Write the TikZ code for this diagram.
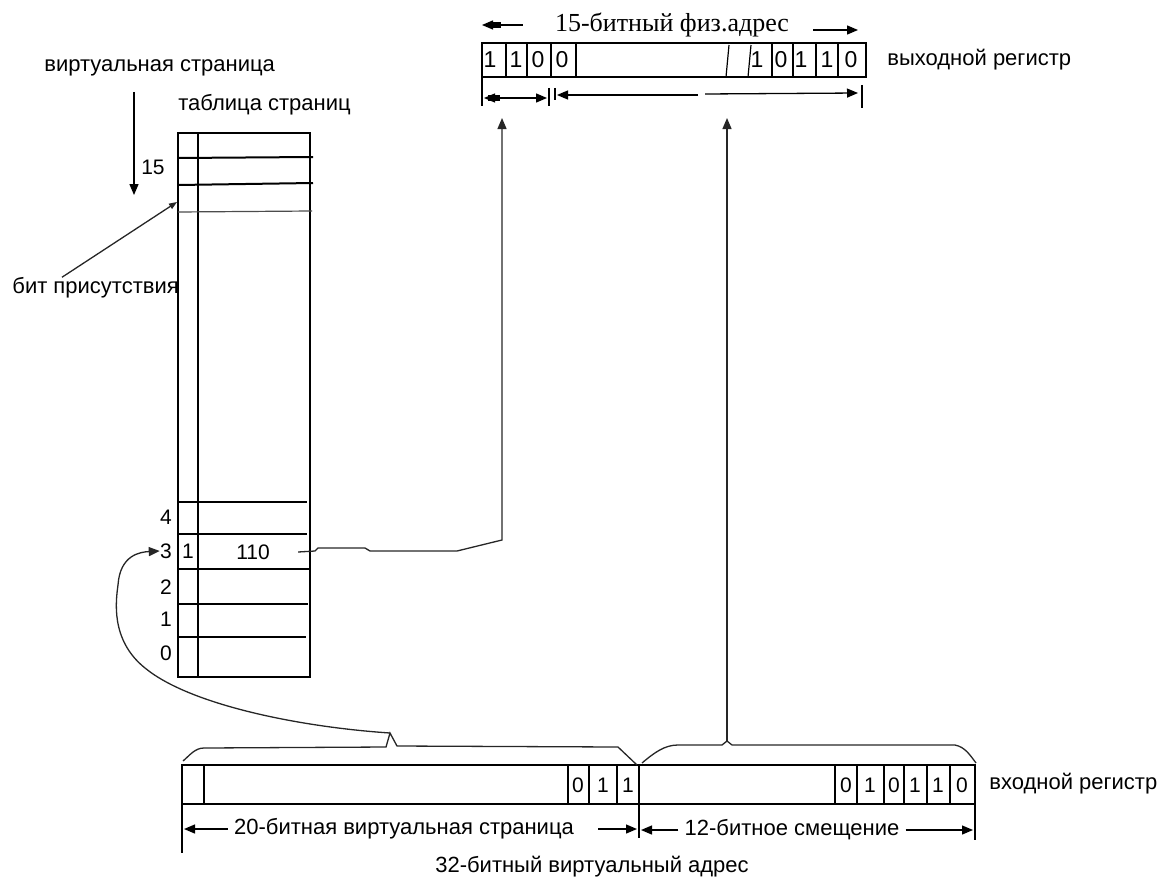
\documentclass[tikz,border=0pt]{standalone}
\usepackage{fontspec}
\setmainfont{Liberation Sans}
\newfontfamily\titlefont{Liberation Serif}
\usetikzlibrary{arrows.meta}

\tikzset{
  lbl/.style={font=\fontsize{11}{13}\selectfont, inner sep=0pt},
  digit/.style={font=\fontsize{10.5}{12}\selectfont, inner sep=0pt},
  frame/.style={line width=1pt},
  cell/.style={line width=0.6pt},
  conn/.style={line width=0.65pt, black!85},
  dim/.style={line width=0.65pt},
}

\begin{document}
\begin{tikzpicture}[x=0.5pt, y=-0.5pt, >={Triangle[length=5.5pt,width=4.5pt]}]
  \useasboundingbox (0,0) rectangle (1165,883);

  % output register
  \draw[frame] (482,43) rectangle (866,77);
  \foreach \x in {506,527,551,576,772,793,816,838}
    \draw[cell] (\x,43) -- (\x,77);
  \draw[cell] (726,77) -- (729,45);
  \draw[cell] (748,77) -- (751,45);
  \foreach \x/\d [count=\i] in {490/1,516/1,538/0,562/0,757/1,781/0,801/1,827/1,851/0}
    \node[digit, font=\fontsize{11.5}{13}\selectfont] (ob\i) at (\x,60) {\d};
  \node[lbl, anchor=west] (outlbl) at (887,60) {выходной регистр};

  \node[font=\titlefont\fontsize{13}{15}\selectfont, inner sep=0pt] (phys) at (672,25) {15-битный физ.адрес};
  \coordinate (physL) at (482,25);
  \coordinate (physR) at (858,30);
  \draw[dim, ->] ([xshift=-16pt]phys.west) -- (physL);
  \fill (489,22) rectangle (501,28);
  \draw[dim, ->] ([xshift=12pt,yshift=-2.5pt]phys.east) -- (physR);

  % widths under output register
  \coordinate (hiL) at (484,98);
  \coordinate (hiR) at (547,98);
  \coordinate (loL) at (557,95);
  \coordinate (loR) at (858,93);
  \draw[cell] (482,77) -- (482,106);
  \draw[dim, <->] (hiL) -- (hiR);
  \fill (488,95) rectangle (500,101);
  \draw[cell] (549,88) -- (549,106);
  \draw[cell] (555,88) -- (555,100);
  \draw[dim, ->] (698,95) -- (loL);
  \draw[dim, ->] (705,94) -- (loR);
  \draw[cell] (862,85) -- (862,108);

  % page table
  \node[lbl, anchor=west] (vpage) at (44,68) {виртуальная страница};
  \node[lbl, anchor=west] (ptab) at (178,105) {таблица страниц};
  \coordinate (vtop) at (134,92);
  \coordinate (vdown) at (134,195);
  \draw[dim, ->] (vtop) -- (vdown);
  \node[digit] (n15) at (153,167) {15};

  \draw[frame] (178,133) rectangle (310,677);
  \draw[frame] (198,133) -- (198,677);
  \draw[frame] (178,158) -- (313,157);
  \draw[frame] (178,185) -- (313,183);
  \draw[cell, black!70] (178,212) -- (312,211);
  \foreach \y/\e in {502/307,534/307,569/310,604/308,637/306}
    \draw[cell] (178,\y) -- (\e,\y);

  \node[lbl, anchor=west] (pres) at (12,288) {бит присутствия};
  \coordinate (presbit) at (177,202);
  \draw[conn, -{Triangle[length=4pt,width=3pt]}] ([xshift=25pt]pres.north west) -- (presbit);

  \foreach \n/\y in {4/517,3/551,2/587,1/619,0/653}
    \node[digit] (row\n) at (166,\y) {\n};
  \node[digit] (pbit) at (188,551) {1};
  \node[digit] (pframe) at (253,552) {110};

  % input register
  \draw[frame] (182,765) rectangle (975,804);
  \foreach \x in {204,568,589,617,639,835,857,884,904,927,950}
    \draw[cell] (\x,765) -- (\x,804);
  \foreach \x/\d [count=\i] in {578/0,603/1,628/1,846/0,870/1,894/0,915/1,938/1,962/0}
    \node[digit] (ib\i) at (\x,785) {\d};
  \node[lbl, anchor=west] (inlbl) at (989,784) {входной регистр};

  % widths under input register
  \draw[cell] (182,804) -- (182,853);
  \draw[cell] (639,804) -- (639,838);
  \draw[cell] (975,804) -- (975,840);
  \node[lbl] (vpdim) at (404,829) {20-битная виртуальная страница};
  \node[lbl] (offdim) at (792,830) {12-битное смещение};
  \coordinate (vpL) at (184,829);
  \coordinate (vpR) at (637,829);
  \coordinate (offL) at (641,830);
  \coordinate (offR) at (973,830);
  \draw[dim, ->] ([xshift=-3pt]vpdim.west) -- (vpL);
  \draw[dim, ->] ([xshift=12pt]vpdim.east) -- (vpR);
  \draw[dim, ->] ([xshift=-3pt]offdim.west) -- (offL);
  \draw[dim, ->] ([xshift=3pt]offdim.east) -- (offR);
  \node[lbl] (vaddr) at (592,867) {32-битный виртуальный адрес};

  % braces and links
  \coordinate (pgpeak) at (390,733);
  \coordinate (offpeak) at (727,741);
  \coordinate (frameup) at (502,118);
  \coordinate (offup) at (727,118);
  \draw[conn] (183,761) .. controls (190,755) and (195,748) .. (204,748) -- (386,747)
    -- (pgpeak) -- (397,746) -- (618,747) -- (637,765);
  \draw[conn] (642,763) .. controls (655,752) and (665,745) .. (678,745) -- (722,745)
    -- (offpeak) -- (732,745) -- (955,745) .. controls (965,747) and (970,755) .. (976,763);
  \draw[conn, ->] (pgpeak) .. controls (300,727) and (190,705) .. (145,668)
    .. controls (110,640) and (116,600) .. (118,585)
    .. controls (120,555) and (140,552) .. (row3.west);
  \draw[conn, ->] ([xshift=14pt]pframe.east) -- (315,551) -- (318,548) -- (365,548)
    -- (370,551) -- (457,551) -- (502,540) -- (frameup);
  \draw[conn, ->] (offpeak) -- (offup);
\end{tikzpicture}
\end{document}
